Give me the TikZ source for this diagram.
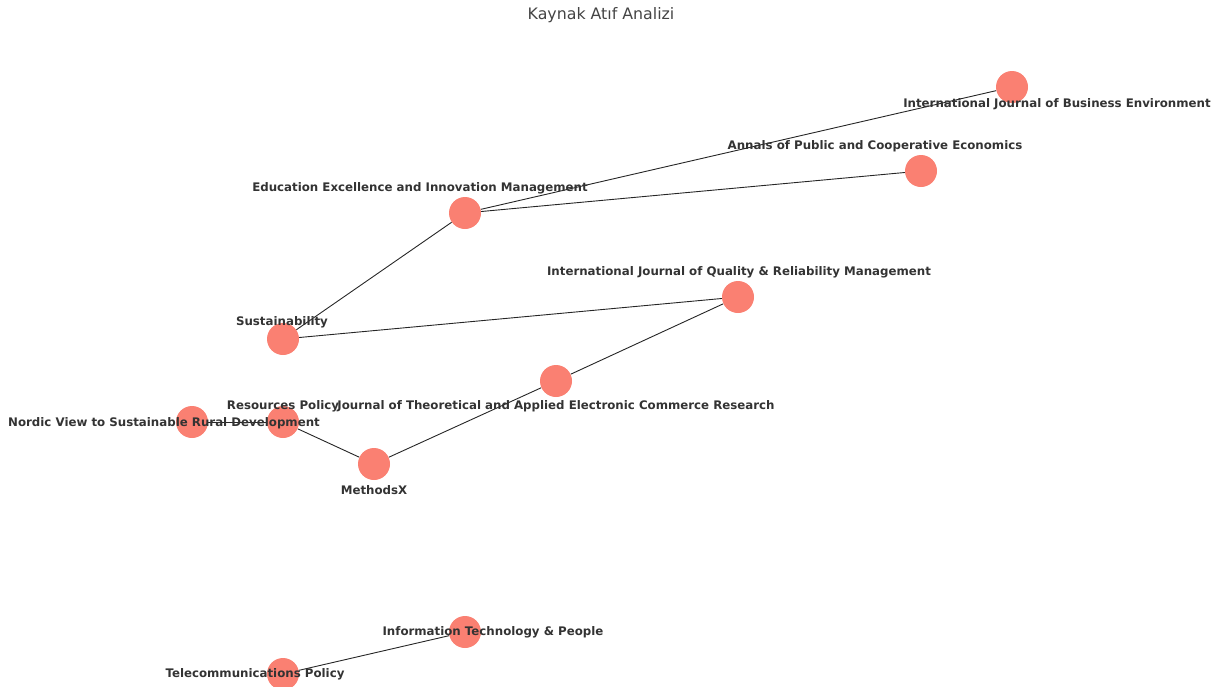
\documentclass[tikz,border=0pt]{standalone}
\usepackage{fontspec}
\setmainfont{DejaVu Sans}
\usepackage{xcolor}
\usetikzlibrary{backgrounds}
\definecolor{nodeSalmon}{HTML}{FA8072}
\definecolor{labelGray}{HTML}{333333}
\definecolor{titleGray}{HTML}{444444}

\begin{document}
\begin{tikzpicture}[x=1pt,y=-1pt,
  journal/.style={circle,fill=nodeSalmon,draw=none,minimum size=32pt,inner sep=0pt},
  jlabel/.style={text=labelGray,inner sep=0pt,yshift=-1.5pt,font=\bfseries\fontsize{11.8}{14}\selectfont},
  citation/.style={draw=black!85,line width=0.9pt}]

\useasboundingbox (0,0) rectangle (1231,686);

% name / node x / node y / label x / label y / text
\def\journals{
ijbe/1012/87/1057/103/{International Journal of Business Environment},
apce/921/171/875/145/{Annals of Public and Cooperative Economics},
eeim/465/213/420/187/{Education Excellence and Innovation Management},
ijqrm/738/297/739/271/{International Journal of Quality \& Reliability Management},
sust/283/339/282/321/{Sustainability},
jtaer/556/381/556/405/{Journal of Theoretical and Applied Electronic Commerce Research},
resp/283/422/283/405/{Resources Policy},
nordic/192/422/164/422/{Nordic View to Sustainable Rural Development},
methx/374/464/374/489/{MethodsX},
itp/465/632/493/631/{Information Technology \& People},
telp/283/674/255/673/{Telecommunications Policy}
}

\def\citations{eeim/ijbe,eeim/apce,eeim/sust,sust/ijqrm,ijqrm/jtaer,jtaer/methx,methx/resp,resp/nordic,itp/telp}

% title
\node[text=titleGray,font=\fontsize{15.8}{18}\selectfont] (title) at (601,15) {Kaynak Atıf Analizi};

% draw the journals
\foreach \name/\x/\y/\lx/\ly/\txt in \journals
  \node[journal] (\name) at (\x,\y) {};

% draw the citation links behind
\begin{scope}[on background layer]
\foreach \a/\b in \citations
  \draw[citation] (\a) -- (\b);
\end{scope}

% label all the journals
\foreach \name/\x/\y/\lx/\ly/\txt in \journals
  \node[jlabel] (\name-label) at (\lx,\ly) {\txt};

\end{tikzpicture}
\end{document}
